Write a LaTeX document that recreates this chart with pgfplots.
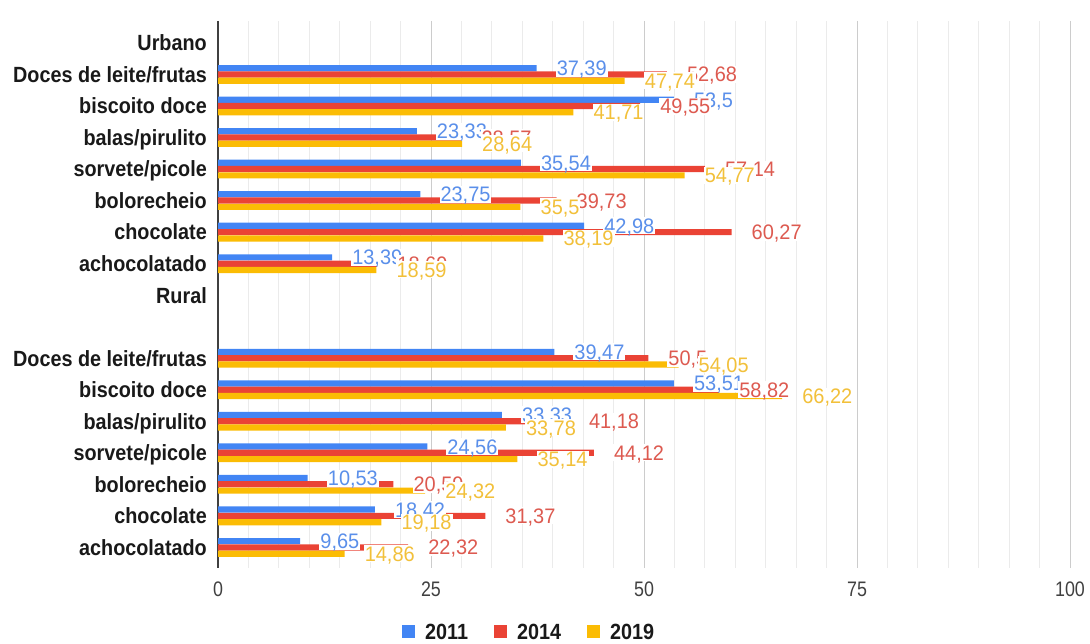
\documentclass[border=0pt]{standalone}
\usepackage{fontspec}
\setmainfont{Liberation Sans}
\newfontfamily\catfont[FakeStretch=0.9]{Liberation Sans Bold}
\newfontfamily\numfont[FakeStretch=0.85]{Liberation Sans}
\newfontfamily\lblfont[FakeStretch=0.95]{Liberation Sans}
\usepackage{pgfplots}
\usepackage{pgfplotstable}
\pgfplotsset{compat=1.18}
\definecolor{cblue}{HTML}{4285F4}
\definecolor{cred}{HTML}{EA4335}
\definecolor{cyel}{HTML}{FBBC04}
\definecolor{lblue}{HTML}{5A8FEA}
\definecolor{lred}{HTML}{DD5A50}
\definecolor{lyel}{HTML}{F2C03A}

\pgfplotstableread{
row a b c
1 37.39 52.68 47.74
2 53.5 49.55 41.71
3 23.33 28.57 28.64
4 35.54 57.14 54.77
5 23.75 39.73 35.5
6 42.98 60.27 38.19
7 13.39 18.69 18.59
10 39.47 50.5 54.05
11 53.51 58.82 66.22
12 33.33 41.18 33.78
13 24.56 44.12 35.14
14 10.53 20.59 24.32
15 18.42 31.37 19.18
16 9.65 22.32 14.86
}\data

\begin{document}
\begin{tikzpicture}
\begin{axis}[
  name=ax,
  set layers,
  mark layer=axis foreground,
  scale only axis,
  width=852pt, height=547pt,
  xbar, bar width=6.2pt,
  xmin=0, xmax=100,
  ymin=-0.7, ymax=16.65,
  y dir=reverse,
  axis line style={draw=none},
  xtick={0,25,50,75,100},
  xticklabels={0,25,50,75,100},
  minor x tick num=6,
  xmajorgrids, xminorgrids,
  major grid style={color=black!20, line width=0.9pt},
  minor grid style={color=black!8, line width=0.9pt},
  major tick length=0pt, minor tick length=0pt,
  extra x ticks={0},
  extra x tick labels={},
  extra x tick style={xmajorgrids=true, major grid style={color=black!75, line width=1.3pt}},
  xticklabel style={font=\numfont\fontsize{21}{21}\selectfont, text=black!75, inner sep=0pt, anchor=north, yshift=-14pt},
  ytick={0,...,16},
  yticklabels={Urbano, Doces de leite/frutas, biscoito doce, balas/pirulito, sorvete/picole, bolorecheio, chocolate, achocolatado, Rural, {}, Doces de leite/frutas, biscoito doce, balas/pirulito, sorvete/picole, bolorecheio, chocolate, achocolatado},
  yticklabel style={font=\catfont\fontsize{22}{22}\selectfont, text=black!90, anchor=east, inner sep=0pt, xshift=-11pt, text height=15.7pt, text depth=0pt},
  point meta=x,
  nodes near coords,
  /pgf/number format/.cd, use comma, fixed, precision=2, assume math mode=true, /pgfplots/.cd,
  every node near coord/.append style={font=\lblfont\fontsize{21}{21}\selectfont, fill=white, inner sep=1pt, anchor=west, xshift=19pt, text height=15pt, text depth=0pt},
  legend image code/.code={\fill[#1] (0pt,-5pt) rectangle (13pt,8pt);},
  legend style={at={(axis description cs:0.364,-0.119)}, anchor=center, draw=none, fill=none, legend columns=3,
    font=\catfont\fontsize{22}{22}\selectfont, text=black!90, inner sep=0pt,
    nodes={inner sep=0pt},
    /tikz/every odd column/.append style={column sep=10pt},
    /tikz/every even column/.append style={column sep=26pt}},
]
\addplot[fill=cblue, draw=none, bar shift=6.3pt, every node near coord/.append style={text=lblue}] table[x=a, y=row] {\data};
\addplot[fill=cred, draw=none, bar shift=0pt, every node near coord/.append style={text=lred}] table[x=b, y=row] {\data};
\addplot[fill=cyel, draw=none, bar shift=-6.3pt, every node near coord/.append style={text=lyel}] table[x=c, y=row] {\data};
\legend{2011,2014,2019}
\end{axis}
\pgfresetboundingbox
\path[use as bounding box] ([xshift=-218pt,yshift=-76pt]ax.south west) rectangle ([xshift=20pt,yshift=20.9pt]ax.north east);
\end{tikzpicture}
\end{document}
